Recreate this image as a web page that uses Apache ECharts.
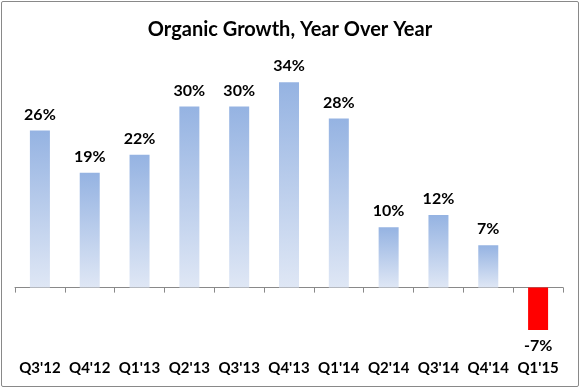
<!DOCTYPE html>
<html><head><meta charset="utf-8">
<script src="https://cdn.jsdelivr.net/npm/echarts@6/dist/echarts.min.js"></script>
<style>
html,body{margin:0;padding:0;background:#fff;}
#c{position:absolute;left:0;top:0;width:580px;height:388px;}
#frame{position:absolute;left:1px;top:1px;width:576px;height:384px;border:1px solid #898989;border-radius:2px;pointer-events:none;}
</style></head>
<body>
<div id="c"></div><div id="frame"></div>
<script>
const title = "Organic Growth, Year Over Year";
const categories = ["Q3'12","Q4'12","Q1'13","Q2'13","Q3'13","Q4'13","Q1'14","Q2'14","Q3'14","Q4'14","Q1'15"];
const growth = [26,19,22,30,30,34,28,10,12,7,-7];

const blueGrad = new echarts.graphic.LinearGradient(0,0,0,1,[
  {offset:0,color:'#95B3E2'},{offset:1,color:'#DFE7F5'}]);
const font = 'Lato, "Open Sans", sans-serif';

const chart = echarts.init(document.getElementById('c'));
chart.setOption({
  animation:false,
  title:{text:title,left:'center',top:15,textStyle:{fontFamily:font,fontSize:20,fontWeight:'bold',color:'#000'}},
  grid:{left:15,right:17,top:46,height:302},
  xAxis:[{type:'category',data:categories,
    axisLine:{onZero:true,lineStyle:{color:'#898989',width:1}},
    axisTick:{show:true,length:5,lineStyle:{color:'#898989'}},
    axisLabel:{show:false}},
   {type:'category',data:categories,position:'bottom',
    axisLine:{show:false},axisTick:{show:false},
    axisLabel:{show:true,interval:0,margin:13,fontFamily:font,fontSize:15,fontWeight:'bold',color:'#000'}}],
  yAxis:{type:'value',min:-10,max:40,show:false,splitLine:{show:false}},
  series:[{
    type:'bar',barWidth:20,
    data:growth.map(v=>({value:v,itemStyle:{color:v<0?'#FF0000':blueGrad},
      label:{position:v<0?'bottom':'top'}})),
    label:{show:true,distance:8,formatter:p=>p.value+'%',fontFamily:font,fontSize:16,fontWeight:'bold',color:'#000'}
  }],
});
</script>
</body></html>
